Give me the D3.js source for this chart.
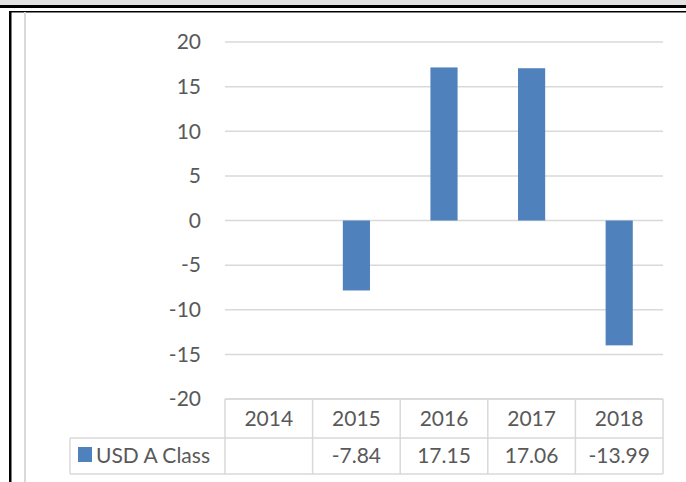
<!DOCTYPE html>
<html>
<head>
<meta charset="utf-8">
<script src="https://cdn.jsdelivr.net/npm/d3@7"></script>
<style>
  body { margin: 0; background: #fff; }
  text { font-family: Lato, "Open Sans", sans-serif; }
</style>
</head>
<body>
<div id="chart"></div>
<script>
const years = ['2014', '2015', '2016', '2017', '2018']
const values = [null, -7.84, 17.15, 17.06, -13.99]
const labels = ['', '-7.84', '17.15', '17.06', '-13.99']
const seriesName = 'USD A Class'
const yTicks = [-20, -15, -10, -5, 0, 5, 10, 15, 20]

const W = 686, H = 482
const plot = { left: 225, right: 663, top: 42, bottom: 399 }
const rowH = 38
const fs = '21px'

const svg = d3.select('#chart').append('svg')
    .attr('width', W)
    .attr('height', H)

// page frame bits around the chart
svg.append('rect').attr('x', 0).attr('y', 0).attr('width', W).attr('height', 5).attr('fill', '#e3e3e3')
svg.append('rect').attr('x', 0).attr('y', 5).attr('width', W).attr('height', 3).attr('fill', '#000')
svg.append('rect').attr('x', 9).attr('y', 11).attr('width', W - 9).attr('height', 1.5).attr('fill', '#000')
svg.append('rect').attr('x', 9).attr('y', 11).attr('width', 2.5).attr('height', H - 11).attr('fill', '#000')
svg.append('rect').attr('x', 24).attr('y', 12).attr('width', 2).attr('height', H - 12).attr('fill', '#d9d9d9')

const x = d3.scaleBand()
    .domain(years)
    .range([plot.left, plot.right])
    .paddingInner(0.69)
    .paddingOuter(0.345)

const band = d3.scaleBand()
    .domain(years)
    .range([plot.left, plot.right])

const y = d3.scaleLinear()
    .domain([-20, 20])
    .range([plot.bottom, plot.top])

// gridlines
svg.append('g')
    .selectAll('line')
    .data(yTicks)
    .join('line')
    .attr('x1', plot.left)
    .attr('x2', plot.right)
    .attr('y1', d => y(d))
    .attr('y2', d => y(d))
    .attr('stroke', '#d9d9d9')
    .attr('stroke-width', 1.5)

// y labels
svg.append('g')
    .selectAll('text')
    .data(yTicks)
    .join('text')
    .attr('x', 201)
    .attr('y', d => y(d))
    .attr('dy', '0.35em')
    .attr('text-anchor', 'end')
    .attr('fill', '#595959')
    .style('font-size', fs)
    .text(d => d)

// bars
svg.append('g')
    .selectAll('rect')
    .data(years.map((yr, i) => ({ yr, v: values[i] })).filter(d => d.v != null))
    .join('rect')
    .attr('x', d => x(d.yr))
    .attr('width', x.bandwidth())
    .attr('y', d => y(Math.max(0, d.v)))
    .attr('height', d => Math.abs(y(d.v) - y(0)))
    .attr('fill', '#4f81bd')

// data table
const tbl = svg.append('g')
const tStroke = '#d9d9d9'
const row1 = plot.bottom, row2 = plot.bottom + rowH + 1, row3 = 474

tbl.append('line').attr('x1', plot.left).attr('x2', plot.right).attr('y1', row1).attr('y2', row1)
    .attr('stroke', tStroke).attr('stroke-width', 1.5)
tbl.append('line').attr('x1', 70).attr('x2', plot.right).attr('y1', row2).attr('y2', row2)
    .attr('stroke', tStroke).attr('stroke-width', 1.5)
tbl.append('line').attr('x1', 70).attr('x2', plot.right).attr('y1', row3).attr('y2', row3)
    .attr('stroke', tStroke).attr('stroke-width', 1.5)
tbl.append('line').attr('x1', 70).attr('x2', 70).attr('y1', row2).attr('y2', row3)
    .attr('stroke', tStroke).attr('stroke-width', 1.5)

tbl.selectAll('line.v')
    .data(years.map(yr => band(yr)).concat([plot.right]))
    .join('line')
    .attr('class', 'v')
    .attr('x1', d => d)
    .attr('x2', d => d)
    .attr('y1', row1)
    .attr('y2', row3)
    .attr('stroke', tStroke)
    .attr('stroke-width', 1.5)

tbl.selectAll('text.yr')
    .data(years)
    .join('text')
    .attr('class', 'yr')
    .attr('x', d => band(d) + band.bandwidth() / 2)
    .attr('y', (row1 + row2) / 2)
    .attr('dy', '0.35em')
    .attr('text-anchor', 'middle')
    .attr('fill', '#595959')
    .style('font-size', fs)
    .text(d => d)

tbl.selectAll('text.val')
    .data(years.map((yr, i) => ({ yr, t: labels[i] })))
    .join('text')
    .attr('class', 'val')
    .attr('x', d => band(d.yr) + band.bandwidth() / 2)
    .attr('y', (row2 + row3) / 2)
    .attr('dy', '0.35em')
    .attr('text-anchor', 'middle')
    .attr('fill', '#595959')
    .style('font-size', fs)
    .text(d => d.t)

tbl.append('rect')
    .attr('x', 78).attr('y', 447).attr('width', 14).attr('height', 15)
    .attr('fill', '#4f81bd')
tbl.append('text')
    .attr('x', 96)
    .attr('y', (row2 + row3) / 2)
    .attr('dy', '0.35em')
    .attr('fill', '#595959')
    .style('font-size', fs)
    .text(seriesName)
</script>
</body>
</html>
